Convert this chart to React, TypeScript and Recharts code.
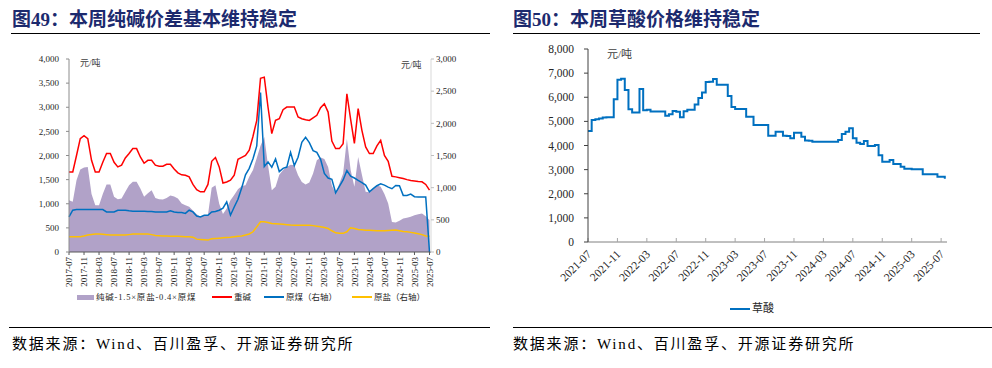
import React from "react";
import { ComposedChart, Area, Line, XAxis, YAxis } from "recharts";

// 图49：月度，2017-07 ~ 2025-07
const SODA_TICKS = [
  "2017-07", "2017-11", "2018-03", "2018-07", "2018-11", "2019-03", "2019-07",
  "2019-11", "2020-03", "2020-07", "2020-11", "2021-03", "2021-07", "2021-11",
  "2022-03", "2022-07", "2022-11", "2023-03", "2023-07", "2023-11", "2024-03",
  "2024-07", "2024-11", "2025-03", "2025-07",
];

// 重碱（左轴）
const HEAVY_SODA = [
  1660, 1660, 2000, 2350, 2410, 2350, 1900, 1660, 1660, 1860, 2040, 2040, 1860,
  1764, 1800, 1950, 2040, 2143, 2143, 1970, 1840, 1900, 1900, 1800, 1778, 1778,
  1819, 1819, 1720, 1640, 1600, 1590, 1557, 1400, 1290, 1247, 1247, 1400, 1880,
  1957, 1764, 1430, 1450, 1488, 1592, 1920, 1960, 2000, 2108, 2400, 2728, 3600,
  3624, 3000, 2453, 2728, 2763, 2950, 3004, 3004, 3004, 2797, 2763, 2740, 2728,
  2780, 2832, 2990, 3073, 2900, 2300, 2143, 2143, 2246, 3280, 2750, 2250, 2970,
  2522, 2177, 2039, 2039, 2200, 2315, 2000, 1880, 1570, 1557, 1540, 1523, 1500,
  1480, 1470, 1460, 1454, 1400, 1282,
];

// 纯碱-1.5×原盐-0.4×原煤（左轴）
const SPREAD = [
  1075, 1040, 1488, 1709, 1750, 1764, 1200, 971, 971, 1200, 1399, 1399, 1144,
  1095, 1110, 1250, 1385, 1454, 1454, 1316, 1144, 1220, 1280, 1120, 1095, 1089,
  1120, 1170, 1150, 1109, 1006, 971, 937, 860, 780, 730, 760, 765, 1330, 1385,
  1000, 790, 900, 1075, 1180, 1300, 1370, 1385, 1560, 1700, 1950, 2200, 2384,
  1800, 1282, 1350, 1600, 1700, 1764, 1810, 1800, 1592, 1450, 1400, 1440, 1626,
  1900, 1960, 1930, 1760, 1380, 1213, 1419, 1626, 2340, 1700, 1350, 1970, 1600,
  1250, 1240, 1316, 1385, 1350, 1200, 1006, 620, 610, 650, 696, 710, 730, 760,
  780, 799, 740, 661,
];

// 原煤（右轴）
const COAL = [
  546, 650, 659, 659, 659, 659, 659, 659, 659, 659, 623, 623, 623, 649, 649, 649,
  640, 634, 634, 634, 634, 630, 628, 623, 623, 623, 623, 640, 622, 613, 613, 600,
  649, 623, 560, 546, 572, 572, 623, 630, 649, 680, 778, 572, 700, 820, 1000,
  1200, 1300, 1450, 1650, 2477, 1330, 1400, 1318, 1447, 1250, 1300, 1320, 1550,
  1344, 1473, 1705, 1782, 1700, 1576, 1550, 1440, 1220, 1150, 1130, 920, 1020,
  1120, 1267, 1180, 1150, 1112, 1080, 1040, 935, 984, 1030, 1061, 1040, 1009,
  984, 1035, 1030, 880, 880, 900, 860, 855, 855, 855, 0,
];

// 原盐（右轴）
const SALT = [
  237, 237, 237, 237, 250, 265, 273, 278, 278, 275, 270, 263, 263, 263, 263, 263,
  270, 278, 278, 278, 278, 278, 270, 255, 252, 250, 247, 245, 245, 243, 240, 237,
  237, 230, 200, 196, 190, 185, 205, 211, 215, 220, 225, 230, 237, 245, 250, 263,
  280, 314, 391, 469, 469, 460, 443, 440, 435, 430, 425, 420, 417, 417, 417, 417,
  417, 410, 400, 391, 380, 365, 330, 298, 290, 290, 314, 376, 365, 350, 345, 340,
  338, 335, 332, 330, 332, 335, 338, 340, 330, 320, 314, 305, 295, 285, 270, 250,
  245,
];

// 图50：半月，2021-07 ~ 2025-07
const OXALIC_TICKS = [
  "2021-07", "2021-11", "2022-03", "2022-07", "2022-11", "2023-03", "2023-07",
  "2023-11", "2024-03", "2024-07", "2024-11", "2025-03", "2025-07",
];

const OXALIC = [
  4600, 5060, 5090, 5120, 5160, 5170, 5176, 5920, 6726, 6768, 6300, 5500, 5370,
  5370, 6339, 5460, 5481, 5411, 5411, 5411, 5411, 5232, 5300, 5430, 5400, 5176,
  5420, 5481, 5481, 5700, 5965, 6200, 6629, 6640, 6754, 6519, 6519, 6519, 6050,
  5591, 5508, 5508, 5508, 5196, 5196, 4851, 4851, 4851, 4851, 4400, 4400, 4574,
  4574, 4400, 4395, 4298, 4533, 4533, 4367, 4210, 4201, 4160, 4160, 4160, 4160,
  4160, 4160, 4160, 4229, 4478, 4574, 4713, 4300, 4118, 4063, 4187, 3980, 3980,
  4022, 3600, 3331, 3331, 3400, 3234, 3234, 3123, 3040, 3040, 3013, 3013, 3013,
  2805, 2805, 2805, 2805, 2709, 2709, 2626,
];

const sodaData = HEAVY_SODA.map((v, i) => ({
  t: i,
  soda: v,
  spread: SPREAD[i],
  coal: COAL[i],
  salt: SALT[i],
}));

const oxalicData = OXALIC.map((v, i) => ({ t: i / 2, price: v }));

const FONT = "'Liberation Serif', 'Noto Sans CJK SC', serif";
const TITLE_COLOR = "#1c2a6e";
const fmt = (v: number) => v.toLocaleString("en-US");

const SodaTick = ({ x, y, payload }: any) => (
  <text
    x={x}
    y={y}
    transform={`rotate(-90, ${x}, ${y})`}
    textAnchor="end"
    dy="0.35em"
    fontSize={9}
    fill="#262626"
  >
    {SODA_TICKS[Math.round(payload.value / 4)]}
  </text>
);

const OxalicTick = ({ x, y, payload }: any) => (
  <text
    x={x + 4}
    y={y + 9}
    transform={`rotate(-45, ${x + 4}, ${y + 9})`}
    textAnchor="end"
    fontSize={11.5}
    fill="#262626"
  >
    {OXALIC_TICKS[Math.round(payload.value / 4)]}
  </text>
);

const LegendItem = ({ left, top, color, box, label, size = 9, spacing = 0 }: any) => (
  <div
    style={{
      position: "absolute",
      left,
      top,
      display: "flex",
      alignItems: "center",
      fontSize: size,
      letterSpacing: spacing,
      color: "#262626",
      whiteSpace: "nowrap",
      lineHeight: 1,
    }}
  >
    <span
      style={{
        display: "inline-block",
        width: box ? 17 : 20,
        height: box ? 5 : 2,
        background: color,
        marginRight: 2,
      }}
    />
    {label}
  </div>
);

export default function App() {
  return (
    <div
      style={{
        position: "absolute",
        left: 0,
        top: 0,
        width: 992,
        height: 368,
        background: "#fff",
        fontFamily: FONT,
        overflow: "hidden",
      }}
    >
      {/* titles */}
      <div style={{ position: "absolute", left: 12, top: 8, fontSize: 19, fontWeight: 700, color: TITLE_COLOR, lineHeight: "24px" }}>
        图49：本周纯碱价差基本维持稳定
      </div>
      <div style={{ position: "absolute", left: 11, top: 33, width: 479, height: 1, background: "#000" }} />
      <div style={{ position: "absolute", left: 513, top: 8, fontSize: 19, fontWeight: 700, color: TITLE_COLOR, lineHeight: "24px" }}>
        图50：本周草酸价格维持稳定
      </div>
      <div style={{ position: "absolute", left: 513, top: 33, width: 467, height: 1, background: "#000" }} />

      {/* left chart */}
      <div style={{ position: "absolute", left: 0, top: 0 }}>
        <ComposedChart
          width={496}
          height={300}
          data={sodaData}
          margin={{ top: 59, right: 10, bottom: 8, left: 9 }}
        >
          <XAxis
            dataKey="t"
            type="number"
            domain={[0, 96.4]}
            ticks={SODA_TICKS.map((_, i) => i * 4)}
            interval={0}
            height={40}
            tick={<SodaTick />}
            tickSize={3}
            tickMargin={2}
            axisLine={{ stroke: "#595959" }}
            tickLine={{ stroke: "#595959" }}
          />
          <YAxis
            yAxisId="l"
            domain={[0, 4000]}
            ticks={[0, 500, 1000, 1500, 2000, 2500, 3000, 3500, 4000]}
            width={60}
            tickSize={3}
            tickMargin={7}
            tickFormatter={fmt}
            tick={{ fontSize: 9, fill: "#262626" }}
            axisLine={{ stroke: "#8c8c8c" }}
            tickLine={{ stroke: "#8c8c8c" }}
          />
          <YAxis
            yAxisId="r"
            orientation="right"
            domain={[0, 3000]}
            ticks={[0, 500, 1000, 1500, 2000, 2500, 3000]}
            width={55}
            tickSize={3}
            tickMargin={2}
            tickFormatter={fmt}
            tick={{ fontSize: 9, fill: "#262626" }}
            axisLine={{ stroke: "#d9d9d9" }}
            tickLine={{ stroke: "#bfbfbf" }}
          />
          <Area
            yAxisId="l"
            dataKey="spread"
            type="linear"
            fill="#b1a2c8"
            fillOpacity={1}
            stroke="none"
            isAnimationActive={false}
          />
          <Line yAxisId="r" dataKey="salt" type="linear" stroke="#ffc000" strokeWidth={1.5} dot={false} isAnimationActive={false} />
          <Line yAxisId="r" dataKey="coal" type="linear" stroke="#0070c0" strokeWidth={1.5} dot={false} isAnimationActive={false} />
          <Line yAxisId="l" dataKey="soda" type="linear" stroke="#ff0000" strokeWidth={1.5} dot={false} isAnimationActive={false} />
        </ComposedChart>
      </div>
      <div style={{ position: "absolute", left: 80, top: 56, fontSize: 9, color: "#404040" }}>元/吨</div>
      <div style={{ position: "absolute", left: 401, top: 58, fontSize: 9, color: "#404040" }}>元/吨</div>

      <LegendItem left={77} top={293} color="#b1a2c8" box label="纯碱-1.5×原盐-0.4×原煤" size={8.5} spacing={0.8} />
      <LegendItem left={212} top={293} color="#ff0000" label="重碱" size={8.5} />
      <LegendItem left={264} top={293} color="#0070c0" label="原煤（右轴）" size={8.5} />
      <LegendItem left={352} top={293} color="#ffc000" label="原盐（右轴）" size={8.5} />

      {/* right chart */}
      <div style={{ position: "absolute", left: 496, top: 0 }}>
        <ComposedChart
          width={496}
          height={300}
          data={oxalicData}
          margin={{ top: 49, right: 45, bottom: 8, left: 30 }}
        >
          <XAxis
            dataKey="t"
            type="number"
            domain={[0, 48.8]}
            ticks={OXALIC_TICKS.map((_, i) => i * 4)}
            interval={0}
            height={50}
            tick={<OxalicTick />}
            tickSize={-4}
            tickMargin={8}
            axisLine={{ stroke: "#808080" }}
            tickLine={{ stroke: "#a6a6a6" }}
          />
          <YAxis
            domain={[0, 8000]}
            ticks={[0, 1000, 2000, 3000, 4000, 5000, 6000, 7000, 8000]}
            width={62}
            tickSize={4}
            tickMargin={10}
            tickFormatter={fmt}
            tick={{ fontSize: 11.5, fill: "#262626" }}
            axisLine={{ stroke: "#404040" }}
            tickLine={{ stroke: "#404040" }}
          />
          <Line dataKey="price" type="stepAfter" stroke="#0070c0" strokeWidth={2} dot={false} isAnimationActive={false} />
        </ComposedChart>
      </div>
      <div style={{ position: "absolute", left: 607, top: 45, fontSize: 11, color: "#404040" }}>元/吨</div>
      <LegendItem left={730} top={303} color="#0070c0" label="草酸" size={11} />

      {/* source */}
      <div style={{ position: "absolute", left: 9, top: 327, width: 481, height: 1, background: "#000" }} />
      <div style={{ position: "absolute", left: 513, top: 327, width: 479, height: 1, background: "#000" }} />
      <div style={{ position: "absolute", left: 12, top: 335, fontSize: 15, letterSpacing: 1.8, color: "#000", lineHeight: "18px" }}>
        数据来源：Wind、百川盈孚、开源证券研究所
      </div>
      <div style={{ position: "absolute", left: 513, top: 335, fontSize: 15, letterSpacing: 1.8, color: "#000", lineHeight: "18px" }}>
        数据来源：Wind、百川盈孚、开源证券研究所
      </div>
    </div>
  );
}
